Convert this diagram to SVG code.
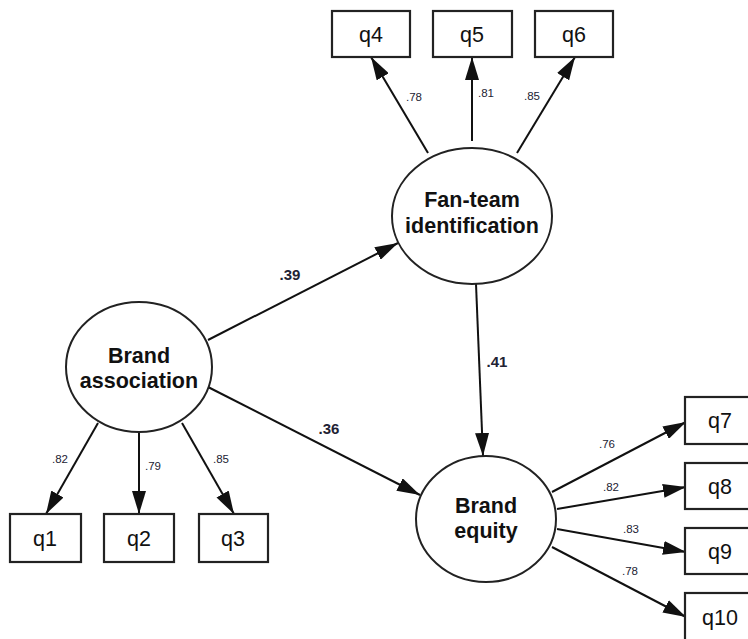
<svg xmlns="http://www.w3.org/2000/svg" width="748" height="639" viewBox="0 0 748 639">
<defs>
<marker id="arr" viewBox="0 0 23 14" refX="23" refY="7" markerWidth="23" markerHeight="14" markerUnits="userSpaceOnUse" orient="auto">
<path d="M0,0 L23,7 L0,14 Z" fill="#111"/>
</marker>
<style>
.lat{fill:#fff;stroke:#222;stroke-width:2}
.box{fill:#fff;stroke:#222;stroke-width:2.2}
.lt{font-family:"Liberation Sans",Arial,sans-serif;font-weight:bold;font-size:21.5px;fill:#111;text-anchor:middle}
.bt{font-family:"Liberation Sans",Arial,sans-serif;font-size:21.5px;fill:#111;text-anchor:middle}
.sl{font-family:"Liberation Sans",Arial,sans-serif;font-size:11.5px;fill:#223;text-anchor:middle}
.pl{font-family:"Liberation Sans",Arial,sans-serif;font-size:15px;font-weight:bold;fill:#223;text-anchor:middle}
.c{stroke:#111;stroke-width:2;fill:none;marker-end:url(#arr)}
</style>
</defs>
<rect width="748" height="639" fill="#fff"/>
<g id="connectors">
<line class="c" x1="428" y1="153" x2="371" y2="57"/>
<line class="c" x1="472" y1="141" x2="472" y2="57"/>
<line class="c" x1="517" y1="153" x2="575" y2="57"/>
<line class="c" x1="98" y1="423" x2="46" y2="514"/>
<line class="c" x1="139" y1="432" x2="139" y2="514"/>
<line class="c" x1="182" y1="423" x2="234" y2="514"/>
<line class="c" x1="208" y1="340" x2="398" y2="243"/>
<line class="c" x1="208" y1="387" x2="420" y2="495"/>
<line class="c" x1="476" y1="284" x2="483" y2="456"/>
<line class="c" x1="552" y1="492" x2="686" y2="422"/>
<line class="c" x1="557" y1="509" x2="686" y2="487"/>
<line class="c" x1="557" y1="529" x2="686" y2="552"/>
<line class="c" x1="552" y1="547" x2="686" y2="617"/>
</g>
<g id="labels">
<text class="sl" x="414" y="101">.78</text>
<text class="sl" x="486" y="97">.81</text>
<text class="sl" x="532" y="100">.85</text>
<text class="sl" x="60" y="463">.82</text>
<text class="sl" x="153" y="470">.79</text>
<text class="sl" x="221" y="463">.85</text>
<text class="sl" x="607" y="448">.76</text>
<text class="sl" x="611" y="491">.82</text>
<text class="sl" x="631" y="533">.83</text>
<text class="sl" x="630" y="575">.78</text>
<text class="pl" x="290" y="280">.39</text>
<text class="pl" x="329" y="434">.36</text>
<text class="pl" x="497" y="367">.41</text>
</g>
<g id="fan-team">
<ellipse class="lat" cx="472" cy="216" rx="80" ry="68"/>
<text class="lt" x="472" y="207">Fan-team</text>
<text class="lt" x="472" y="233">identification</text>
</g>
<g id="brand-association">
<ellipse class="lat" cx="139" cy="367" rx="73" ry="65"/>
<text class="lt" x="139" y="363">Brand</text>
<text class="lt" x="139" y="388">association</text>
</g>
<g id="brand-equity">
<ellipse class="lat" cx="486" cy="519" rx="70" ry="63"/>
<text class="lt" x="486" y="513">Brand</text>
<text class="lt" x="486" y="538">equity</text>
</g>
<g id="q4"><rect class="box" x="332" y="11" width="78" height="46"/><text class="bt" x="371" y="42">q4</text></g>
<g id="q5"><rect class="box" x="433" y="11" width="79" height="46"/><text class="bt" x="472" y="42">q5</text></g>
<g id="q6"><rect class="box" x="535" y="11" width="78" height="46"/><text class="bt" x="574" y="42">q6</text></g>
<g id="q1"><rect class="box" x="10" y="514" width="71" height="48"/><text class="bt" x="45" y="546">q1</text></g>
<g id="q2"><rect class="box" x="104" y="514" width="70" height="48"/><text class="bt" x="139" y="546">q2</text></g>
<g id="q3"><rect class="box" x="199" y="514" width="69" height="48"/><text class="bt" x="233" y="546">q3</text></g>
<g id="q7"><rect class="box" x="685" y="397" width="70" height="47"/><text class="bt" x="720" y="428">q7</text></g>
<g id="q8"><rect class="box" x="685" y="463" width="70" height="46"/><text class="bt" x="720" y="494">q8</text></g>
<g id="q9"><rect class="box" x="685" y="528" width="70" height="46"/><text class="bt" x="720" y="559">q9</text></g>
<g id="q10"><rect class="box" x="685" y="593" width="70" height="48"/><text class="bt" x="720" y="625">q10</text></g>
</svg>
